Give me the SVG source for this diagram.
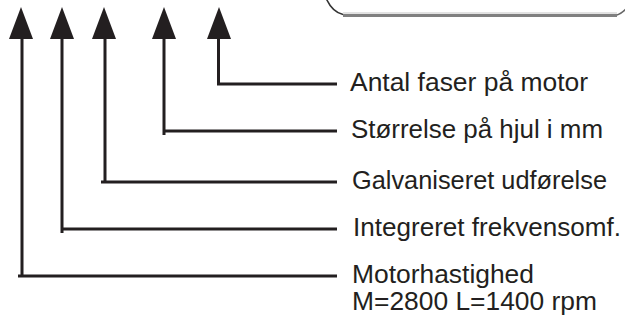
<svg xmlns="http://www.w3.org/2000/svg" width="625" height="320" viewBox="0 0 625 320">
<style>
.ln{fill:none;stroke:#231f20;stroke-width:3;stroke-linecap:butt}
.hd{fill:#231f20}
.lb{font-family:"Liberation Sans",Arial,sans-serif;font-size:26px;fill:#231f20}
</style>
<rect width="625" height="320" fill="#ffffff"/>
<g id="box-fragment">
<path d="M326,-2 Q332,12 343,14.5" fill="none" stroke="#333" stroke-width="1.6"/>
<line x1="343" y1="13" x2="617" y2="13" stroke="#d8d8d8" stroke-width="1.5"/>
<line x1="343" y1="15.5" x2="617" y2="15.5" stroke="#808080" stroke-width="3"/>
<path d="M617,15 Q621,14 626,9" fill="none" stroke="#666" stroke-width="1.6"/>
</g>
<g id="connectors">
<path class="ln" d="M22,38 V277.5 M18,276 H337"/>
<path class="ln" d="M62,38 V233 M62,229 H337"/>
<path class="ln" d="M105,38 V182 M101,182 H337"/>
<path class="ln" d="M164,38 V135 M164,131 H337"/>
<path class="ln" d="M218.5,38 V84 M217,84 H337"/>
<polygon class="hd" points="21,7 33,39 9,39"/>
<polygon class="hd" points="62,7 74,39 50,39"/>
<polygon class="hd" points="104,7 116,39 92,39"/>
<polygon class="hd" points="164,7 176,39 152,39"/>
<polygon class="hd" points="219,7 231,39 207,39"/>
</g>
<g id="node-faser"><text class="lb" x="350" y="91" textLength="238" lengthAdjust="spacingAndGlyphs">Antal faser på motor</text></g>
<g id="node-hjul"><text class="lb" x="351" y="138" textLength="252" lengthAdjust="spacingAndGlyphs">Størrelse på hjul i mm</text></g>
<g id="node-galv"><text class="lb" x="352" y="189" textLength="255" lengthAdjust="spacingAndGlyphs">Galvaniseret udførelse</text></g>
<g id="node-frekv"><text class="lb" x="353" y="236" textLength="268" lengthAdjust="spacingAndGlyphs">Integreret frekvensomf.</text></g>
<g id="node-hast"><text class="lb" x="352" y="283" textLength="182" lengthAdjust="spacingAndGlyphs">Motorhastighed</text><text class="lb" x="352" y="310" textLength="245" lengthAdjust="spacingAndGlyphs">M=2800 L=1400 rpm</text></g>
</svg>
